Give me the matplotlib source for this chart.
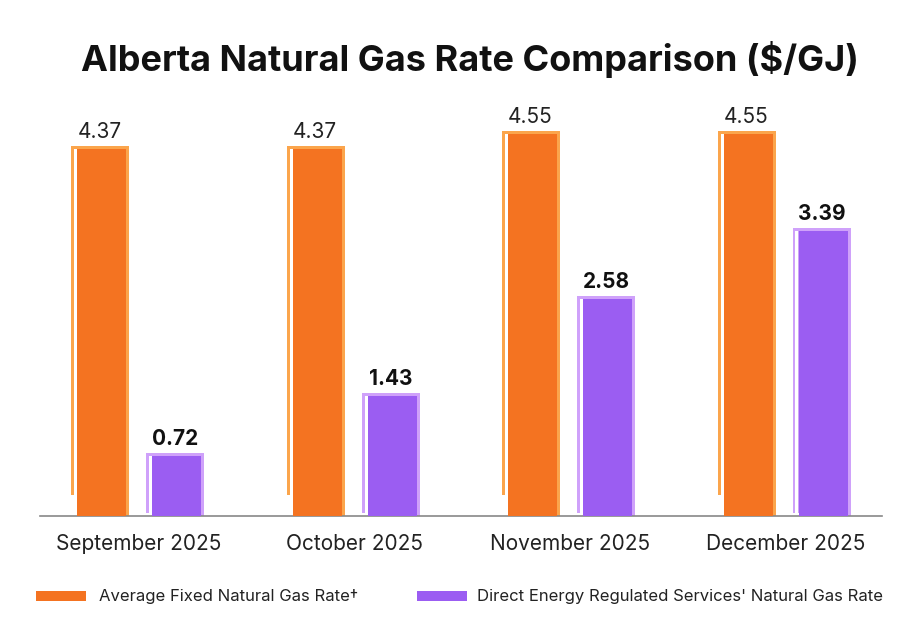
import matplotlib
matplotlib.use("Agg")
import matplotlib.pyplot as plt
from matplotlib.patches import Rectangle

months = ["September 2025", "October 2025", "November 2025", "December 2025"]
fixed_rate = [4.37, 4.37, 4.55, 4.55]
regulated_rate = [0.72, 1.43, 2.58, 3.39]
series_names = ["Average Fixed Natural Gas Rate\u2020",
                "Direct Energy Regulated Services' Natural Gas Rate"]
title = "Alberta Natural Gas Rate Comparison ($/GJ)"

ORANGE = "#F47321"
ORANGE_L = "#FBA54C"
PURPLE = "#9B5DF2"
PURPLE_L = "#CFA1FA"
FONT = ["Inter", "DejaVu Sans"]

W, H = 920, 633
fig = plt.figure(figsize=(W / 100, H / 100), dpi=100)
ax = fig.add_axes([40 / W, (H - 516) / H, (882 - 40) / W, (516 - 100) / H])

px_x = 1 / 215.5          # data units per pixel (x)
ymax = 416 / 84
px_y = ymax / 416         # data units per pixel (y)
ax.set_xlim(-99 * px_x, 743 * px_x)
ax.set_ylim(0, ymax)

bw = 49 * px_x
off = 37.5 * px_x


def fancy_bar(xc, val, main, light, bottom_gap):
    left = xc - bw / 2
    top = val + 3 * px_y
    ax.add_patch(Rectangle((left - 6 * px_x, bottom_gap), (bw + 9 * px_x), top - bottom_gap,
                           facecolor=light, edgecolor="none", zorder=1))
    ax.add_patch(Rectangle((left, 0), bw + 3 * px_x, top,
                           facecolor=light, edgecolor="none", zorder=1))
    ax.add_patch(Rectangle((left - 3 * px_x, bottom_gap), 3 * px_x, val - bottom_gap,
                           facecolor="white", edgecolor="none", zorder=2))
    ax.bar([xc], [val], width=bw, color=main, zorder=3)


for i in range(len(months)):
    fancy_bar(i - off, fixed_rate[i], ORANGE, ORANGE_L, 21 * px_y)
    fancy_bar(i + off, regulated_rate[i], PURPLE, PURPLE_L, 3 * px_y)
    ax.text(i - off - 2 * px_x, fixed_rate[i] + 7 * px_y, f"{fixed_rate[i]:.2f}",
            ha="center", va="bottom", fontsize=15, color="#222222", family=FONT)
    ax.text(i + off - 1 * px_x, regulated_rate[i] + 7 * px_y, f"{regulated_rate[i]:.2f}",
            ha="center", va="bottom", fontsize=15, fontweight="bold", color="#111111", family=FONT)

for s in ["top", "right", "left"]:
    ax.spines[s].set_visible(False)
ax.spines["bottom"].set_color("#888888")
ax.spines["bottom"].set_linewidth(1.2)
ax.set_yticks([])
ax.set_xticks(range(len(months)))
ax.set_xticklabels(months, fontsize=15, color="#222222", family=FONT)
ax.tick_params(axis="x", length=0, pad=13)

fig.text(470 / W, 1 - 60 / H, title, ha="center", va="center", fontsize=26,
         fontweight="bold", color="#111111", family=FONT)

# legend drawn manually in figure pixel coordinates
for (patch_x, text_x, color, label) in [(36, 99, ORANGE, series_names[0]),
                                         (417, 477, PURPLE, series_names[1])]:
    fig.add_artist(Rectangle((patch_x / W, 1 - 601 / H), 50 / W, 10 / H,
                             facecolor=color, edgecolor="none",
                             transform=fig.transFigure))
    fig.text(text_x / W, 1 - 596 / H, label, ha="left", va="center", fontsize=12,
             color="#222222", family=FONT)

fig.savefig("out.png", dpi=100)
